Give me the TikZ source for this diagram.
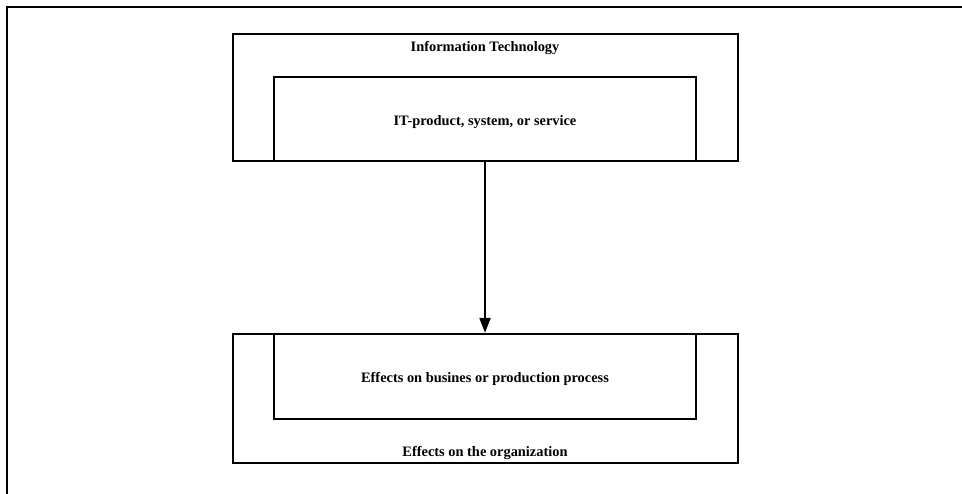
\documentclass[tikz,border=0pt]{standalone}
\usepackage{fontspec}
\setmainfont{Liberation Serif}
\usetikzlibrary{arrows.meta}
\tikzset{
  boxline/.style={draw=black, line width=2.2pt, fill=none, inner sep=0pt},
  lbl/.style={font=\fontsize{14.4}{16}\selectfont\bfseries, inner sep=0pt},
  flow/.style={line width=2pt, -{Triangle[width=11pt,length=15pt]}},
}
\begin{document}
\begin{tikzpicture}[x=1pt,y=-1pt]
  % canvas and open frame
  \fill[white] (0,0) rectangle (962,494);
  \useasboundingbox (0,0) rectangle (962,494);
  \draw[line width=2.2pt] (7,494) -- (7,7) -- (962,7);

  % upper group: information technology
  \node[boxline, minimum width=505pt, minimum height=127pt] (itouter) at (485.5,97.5) {};
  \node[boxline, minimum width=422pt, minimum height=84pt] (itprod) at (485,119) {};
  \node[lbl] (itlabel) at (485,48) {Information Technology};
  \node[lbl] (itprodlabel) at (485,122) {IT-product, system, or service};

  % lower group: effects on the organization
  \node[boxline, minimum width=505pt, minimum height=129pt] (orgouter) at (485.5,398.5) {};
  \node[boxline, minimum width=422pt, minimum height=85pt] (effbus) at (485,376.5) {};
  \node[lbl] (effbuslabel) at (485,379) {Effects on busines or production process};
  \node[lbl] (orglabel) at (485,453) {Effects on the organization};

  % connector
  \draw[flow] (itprod.south) -- (effbus.north);
\end{tikzpicture}
\end{document}
